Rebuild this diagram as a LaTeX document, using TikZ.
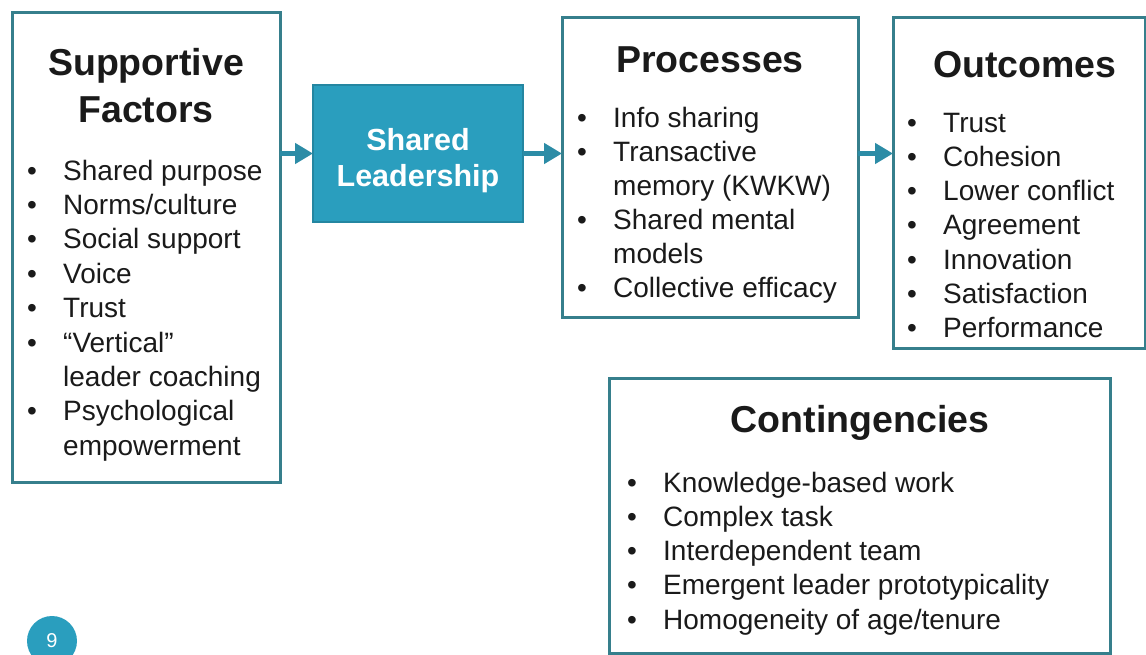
\documentclass[tikz,border=0pt]{standalone}
\usepackage{fontspec}
\setmainfont{Liberation Sans}
\usetikzlibrary{arrows.meta}
\definecolor{boxline}{HTML}{367F8C}
\definecolor{slfill}{HTML}{2A9EBE}
\definecolor{arrowc}{HTML}{2C8CA6}
\definecolor{txt}{HTML}{1A1A1A}
\tikzset{
  frame/.style={draw=boxline, line width=3pt, fill=white, inner sep=0pt, outer sep=0pt, anchor=north west},
  ttl/.style={font=\fontsize{37.5}{45}\selectfont\bfseries, text=txt, anchor=base, inner sep=0pt},
  item/.style={font=\fontsize{28}{34}\selectfont, text=txt, anchor=base west, inner sep=0pt},
  bul/.style={font=\fontsize{28}{34}\selectfont, text=txt, anchor=base west, inner sep=0pt},
  slt/.style={font=\fontsize{30.5}{36}\selectfont\bfseries, text=white, anchor=base, inner sep=0pt},
  flow/.style={draw=arrowc, line width=5.5pt, -{Triangle[length=18pt,width=20pt]}},
}
\begin{document}
\begin{tikzpicture}[x=1pt,y=-1pt]
\useasboundingbox (0,0) rectangle (1146,654);
\fill[white] (0,0) rectangle (1146,654);
% boxes
\node[frame, minimum width=268pt, minimum height=470pt] (sf) at (12,12) {};
\node[frame, draw=slfill!85!black, line width=1.5pt, fill=slfill, minimum width=210pt, minimum height=137pt] (sl) at (313,85) {};
\node[frame, minimum width=296pt, minimum height=300pt] (pr) at (562,17) {};
\node[frame, minimum width=252pt, minimum height=331pt] (oc) at (893,17) {};
\node[frame, minimum width=501pt, minimum height=275pt] (ct) at (609,378) {};
% arrows
\draw[flow] (sf.east |- sl.west) -- (sl.west);
\draw[flow] (sl.east) -- (pr.west |- sl.east);
\draw[flow] (pr.east |- sl.east) -- (oc.west |- sl.east);
% Supportive Factors
\node[ttl] (sft1) at (146,75) {Supportive};
\node[ttl] (sft2) at (146,122) {Factors};
\foreach \y/\t/\b [count=\i] in {180/Shared purpose/1, 214.4/Norms\slash culture/1, 248.8/Social support/1, 283.2/Voice/1, 317.6/Trust/1, 352/“Vertical”/1, 386.4/leader coaching/0, 420.8/Psychological/1, 455.2/empowerment/0}{
  \node[item] (sfi\i) at (63,\y) {\t};
  \ifnum\b=1 \node[bul] (sfb\i) at (27,\y) {•};\fi
}
% Shared Leadership
\node[slt] (slt1) at (418,150) {Shared};
\node[slt] (slt2) at (418,186) {Leadership};
% Processes
\node[ttl] (prt) at (710,72) {Processes};
\foreach \y/\t/\b [count=\i] in {127/Info sharing/1, 161/Transactive/1, 195/memory (KWKW)/0, 229/Shared mental/1, 263/models/0, 297/Collective efficacy/1}{
  \node[item] (pri\i) at (613,\y) {\t};
  \ifnum\b=1 \node[bul] (prb\i) at (577,\y) {•};\fi
}
% Outcomes
\node[ttl] (oct) at (1025,77) {Outcomes};
\foreach \y/\t [count=\i] in {132/Trust, 166.3/Cohesion, 200.6/Lower conflict, 234.9/Agreement, 269.2/Innovation, 303.5/Satisfaction, 337.8/Performance}{
  \node[item] (oci\i) at (943,\y) {\t};
  \node[bul] (ocb\i) at (907,\y) {•};
}
% Contingencies
\node[ttl] (ctt) at (860,432) {Contingencies};
\foreach \y/\t [count=\i] in {492/Knowledge-based work, 526.3/Complex task, 560.6/Interdependent team, 594.9/Emergent leader prototypicality, 629.2/Homogeneity of age\slash tenure}{
  \node[item] (cti\i) at (663,\y) {\t};
  \node[bul] (ctb\i) at (627,\y) {•};
}
% page number
\node[circle, fill=slfill, minimum size=50pt, inner sep=0pt, text=white, font=\fontsize{20}{24}\selectfont] (pg) at (52,641) {9};
\end{tikzpicture}
\end{document}
